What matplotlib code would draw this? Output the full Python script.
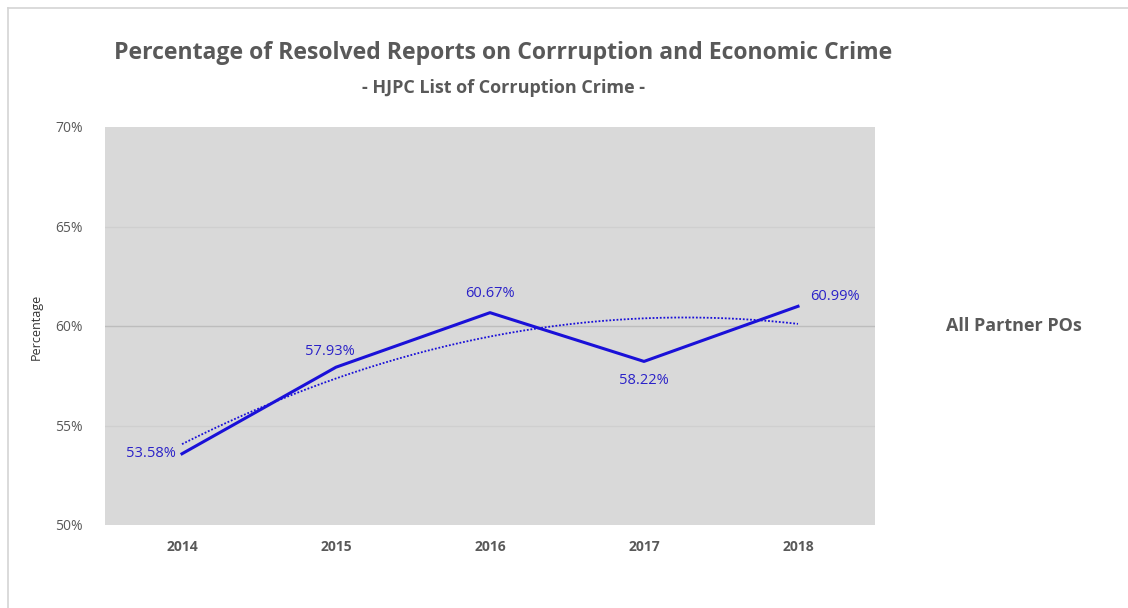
import numpy as np
import matplotlib.pyplot as plt
from matplotlib.lines import Line2D

years = ['2014', '2015', '2016', '2017', '2018']
resolved = [53.58, 57.93, 60.67, 58.22, 60.99]
yticks = [50, 55, 60, 65, 70]

blue = '#1a10d8'
label_blue = '#2b22c8'
grey_text = '#595959'

fig = plt.figure(figsize=(11.28, 6.08), dpi=100)
fig.patch.set_facecolor('white')

# thin frame round the chart (left and top edges)
fig.add_artist(Line2D([8/1128, 8/1128], [0, 1 - 8/608], transform=fig.transFigure,
                      color='#d4d4d4', lw=1.2))
fig.add_artist(Line2D([8/1128, 1], [1 - 8/608, 1 - 8/608], transform=fig.transFigure,
                      color='#d4d4d4', lw=1.2))

ax = fig.add_axes([105/1128, 1 - 525/608, 770/1128, 398/608])
ax.set_facecolor('#d9d9d9')
for s in ax.spines.values():
    s.set_visible(False)

x = np.arange(len(years))
ax.set_xlim(-0.5, len(years) - 0.5)
ax.set_ylim(50, 70)

for v in [55, 60, 65]:
    ax.axhline(v, color='#bdbdbd' if v == 60 else '#cfcfcf', lw=1, zorder=1)

# 2nd order polynomial trendline
coef = np.polyfit(x, resolved, 2)
xs = np.linspace(0, len(years) - 1, 200)
ax.plot(xs, np.polyval(coef, xs), linestyle=(0, (1, 1)), color=blue, lw=1.3, zorder=2)

ax.plot(x, resolved, color=blue, lw=2.2, zorder=3)

offsets = [(-0.04, 0.0, 'right', 'center'),
           (-0.04, 0.4, 'center', 'bottom'),
           (0.0, 0.6, 'center', 'bottom'),
           (0.0, -0.6, 'center', 'top'),
           (0.08, 0.5, 'left', 'center')]
for xi, v, (dx, dy, ha, va) in zip(x, resolved, offsets):
    ax.text(xi + dx, v + dy, f'{v:.2f}%', color=label_blue, fontsize=10.5,
            ha=ha, va=va, family='Open Sans', zorder=4)

ax.set_xticks(x)
ax.set_xticklabels(years, fontsize=10, fontweight='bold', color=grey_text, family='Open Sans')
ax.set_yticks(yticks)
ax.set_yticklabels([f'{v}%' for v in yticks], fontsize=10, color=grey_text, family='Open Sans')
ax.tick_params(length=0, pad=16)
ax.tick_params(axis='x', pad=11)

fig.text(36/1128, 1 - 327/608, 'Percentage', rotation=90, ha='center', va='center',
         fontsize=9, color='#333333', family='Open Sans')

fig.text(503/1128, 1 - 53/608, 'Percentage of Resolved Reports on Corrruption and Economic Crime',
         ha='center', va='center', fontsize=16.6, fontweight='bold', color=grey_text, family='Open Sans')
fig.text(503/1128, 1 - 88/608, '- HJPC List of Corruption Crime -',
         ha='center', va='center', fontsize=13, fontweight='bold', color=grey_text, family='Open Sans')

fig.text(1014/1128, 1 - 326/608, 'All Partner POs', ha='center', va='center',
         fontsize=13, fontweight='bold', color=grey_text, family='Open Sans')

fig.savefig('out.png', dpi=100)
